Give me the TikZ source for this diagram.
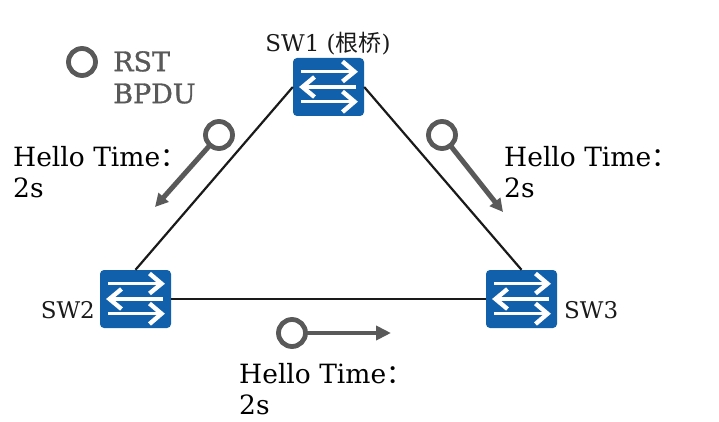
\documentclass[tikz,border=0pt]{standalone}
\usepackage{fontspec}
\setmainfont{DejaVu Serif}
\newfontfamily\cjk{Noto Sans CJK SC}
\newfontfamily\legendf{DejaVu Serif}[RawFeature={embolden=1.2}]
\usetikzlibrary{arrows.meta}
\definecolor{swblue}{HTML}{1160AB}
\definecolor{pdugray}{HTML}{595959}
\definecolor{linkblack}{HTML}{1A1A1A}
\newcommand{\switchglyph}[1]{%
  \begin{scope}[shift={(#1)},white,line cap=butt]
    \draw[line width=3.4pt] (-27.5,-15.3) -- (25,-15.3);
    \draw[line width=4.4pt] (14,-25.5) -- (26,-15.3) -- (14,-5.5);
    \draw[line width=3.4pt] (27.5,0) -- (-25,0);
    \draw[line width=4.4pt] (-14,-10) -- (-26,0) -- (-14,10);
    \draw[line width=3.4pt] (-27.5,14.7) -- (25,14.7);
    \draw[line width=4.4pt] (14,4.5) -- (26,14.7) -- (14,25);
  \end{scope}}
\tikzset{
  x=1pt,y=-1pt,
  switchbox/.style={fill=swblue,draw=none,rounded corners=4pt,minimum width=71pt,minimum height=58pt,inner sep=0pt},
  link/.style={draw=linkblack,line width=2.2pt},
  pdu/.style={circle,draw=pdugray,line width=4.8pt,fill=white,minimum size=27pt,inner sep=0pt},
  pduarrow/.style={draw=pdugray,line width=5pt,-{Triangle[length=13pt,width=13pt]},shorten <=-1pt},
  pduarrowthin/.style={draw=pdugray,line width=4.4pt,-{Triangle[length=15pt,width=14pt]},shorten <=-1pt},
  hello/.style={anchor=north west,align=left,font=\fontsize{26.5}{31}\selectfont,inner sep=0pt,text=black},
  swlabel/.style={font=\fontsize{23}{26}\selectfont,text=linkblack,inner sep=0pt},
  legend/.style={anchor=north west,align=left,font=\legendf\fontsize{27}{32}\selectfont,inner sep=0pt,text=pdugray}
}
\begin{document}
\begin{tikzpicture}
\useasboundingbox (0,0) rectangle (719,422);
\node[switchbox] (sw1) at (328.5,87) {};
\node[switchbox] (sw2) at (135.5,299) {};
\node[switchbox] (sw3) at (521.5,299) {};
\switchglyph{328.5,87}
\switchglyph{135.5,299}
\switchglyph{521.5,299}
\draw[link] (sw1.west) -- (sw2.north);
\draw[link] (sw1.east) -- (sw3.north);
\draw[link,line width=2.8pt] (sw2.east) -- (sw3.west);
\node[swlabel] (l1) at (328,44) {SW1 ({\cjk 根桥})};
\node[swlabel,anchor=east] (l2) at (95,310) {SW2};
\node[swlabel,anchor=west] (l3) at (564,310) {SW3};
\node[pdu] (legendc) at (82,62) {};
\node[legend] (legendt) at (113,51) {RST\\BPDU};
\node[pdu] (c1) at (219,135) {};
\coordinate (e1) at (155,207);
\draw[pduarrow] (c1) -- (e1);
\node[pdu] (c2) at (442,135) {};
\coordinate (e2) at (503,212);
\draw[pduarrow] (c2) -- (e2);
\node[pdu] (c3) at (292,333) {};
\coordinate (e3) at (391,333);
\draw[pduarrowthin] (c3) -- (e3);
\node[hello] (h1) at (13,146) {Hello Time{\cjk ：}\\2s};
\node[hello] (h2) at (504,146) {Hello Time{\cjk ：}\\2s};
\node[hello] (h3) at (239,363) {Hello Time{\cjk ：}\\2s};
\end{tikzpicture}
\end{document}
